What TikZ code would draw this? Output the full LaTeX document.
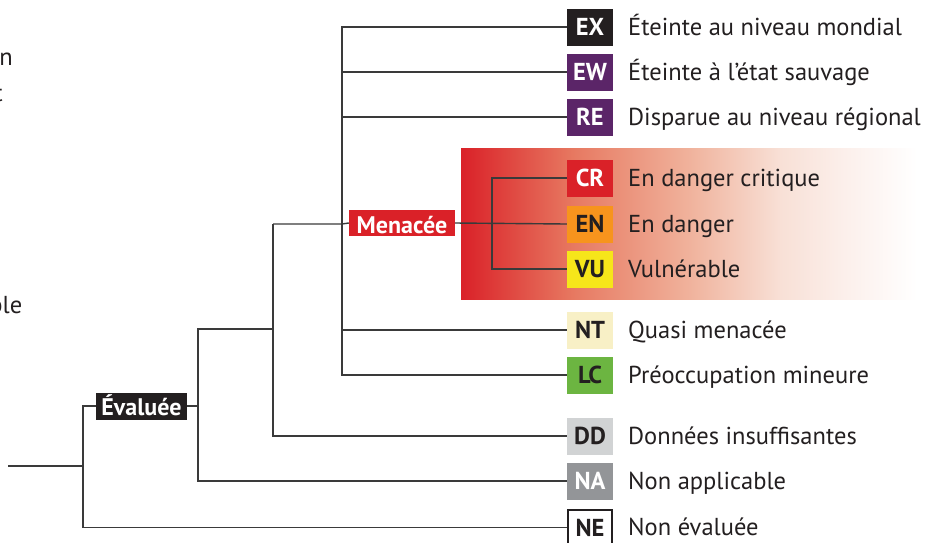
\documentclass[tikz,border=0pt]{standalone}
\usepackage{fontspec}
\setmainfont{PT Sans}
\definecolor{ink}{HTML}{231F20}
\definecolor{lineC}{HTML}{3A3A3A}
\definecolor{cEX}{HTML}{231F20}
\definecolor{cEW}{HTML}{5B2568}
\definecolor{cCR}{HTML}{DA2128}
\definecolor{cEN}{HTML}{F7941D}
\definecolor{cVU}{HTML}{F6E61A}
\definecolor{cNT}{HTML}{F8F0C6}
\definecolor{cLC}{HTML}{6CB541}
\definecolor{cDD}{HTML}{D1D3D4}
\definecolor{cNA}{HTML}{939598}
\definecolor{g1}{HTML}{E77A62}
\definecolor{g2}{HTML}{F0B29C}
\definecolor{g3}{HTML}{F8E0D6}
\definecolor{g4}{HTML}{FCF0EC}
\pgfdeclarehorizontalshading{redfade}{100bp}{color(0bp)=(cCR); color(25bp)=(cCR); color(37.5bp)=(g1); color(50bp)=(g2); color(60bp)=(g3); color(67.5bp)=(g4); color(75bp)=(white); color(100bp)=(white)}
\tikzset{
  code/.style={minimum width=46pt, minimum height=37pt, inner sep=0pt,
    text height=17pt, text depth=0pt,
    font=\fontsize{24.5}{24.5}\selectfont\bfseries, text=ink},
  lab/.style={anchor=base west, inner sep=0pt, font=\fontsize{24.5}{24.5}\selectfont, text=ink},
  tag/.style={inner sep=0pt, text=white, font=\fontsize{24}{24}\selectfont\bfseries},
  conn/.style={draw=lineC, line width=1.4pt},
  frag/.style={anchor=base east, inner sep=0pt, font=\fontsize{24.5}{24.5}\selectfont, text=ink}
}
\begin{document}
\begin{tikzpicture}[x=1pt,y=-1pt]
\useasboundingbox (0,0) rectangle (925,542);
% cut-off fragments at the left edge
\node[frag] (f1) at (13,65) {n};
\node[frag] (f2) at (3,101) {t};
\node[frag] (f3) at (22.5,313) {ble};
% red gradient panel
\shade[shading=redfade] (461,148) rectangle (917,299);
% code boxes
\node[code, fill=cEX, text=white] (EX) at (590,27) {EX};
\node[code, fill=cEW, text=white] (EW) at (590,72) {EW};
\node[code, fill=cEW, text=white] (RE) at (590,117) {RE};
\node[code, fill=cCR, text=white] (CR) at (590,178) {CR};
\node[code, fill=cEN] (EN) at (590,224) {EN};
\node[code, fill=cVU] (VU) at (590,269) {VU};
\node[code, fill=cNT] (NT) at (590,330) {NT};
\node[code, fill=cLC] (LC) at (590,375) {LC};
\node[code, fill=cDD] (DD) at (590,436) {DD};
\node[code, fill=cNA, text=white] (NA) at (590,481) {NA};
\node[code, fill=white, draw=ink, line width=2pt, minimum width=44pt, minimum height=35pt] (NE) at (590,527.5) {NE};
% labels
\node[lab] (tEX) at (628,35.5) {Éteinte au niveau mondial};
\node[lab] (tEW) at (628,80.5) {Éteinte à l’état sauvage};
\node[lab] (tRE) at (628,125.5) {Disparue au niveau régional};
\node[lab] (tCR) at (628,186.5) {En danger critique};
\node[lab] (tEN) at (628,232.5) {En danger};
\node[lab] (tVU) at (628,277.5) {Vulnérable};
\node[lab] (tNT) at (628,338.5) {Quasi menacée};
\node[lab] (tLC) at (628,383.5) {Préoccupation mineure};
\node[lab] (tDD) at (628,444.5) {Données insuffisantes};
\node[lab] (tNA) at (628,489.5) {Non applicable};
\node[lab] (tNE) at (628,535.5) {Non évaluée};
% group tags
\node[tag, fill=cCR, minimum width=106pt, minimum height=26pt, text height=21pt, text depth=1pt] (Men) at (402,223) {Menacée};
\node[tag, fill=cEX, minimum width=91pt, minimum height=27pt, text height=20pt, text depth=2pt] (Ev) at (141.5,406) {Évaluée};
% junctions
\coordinate (m) at (342,224);
\coordinate (n) at (492,224);
\coordinate (a) at (273,224);
\coordinate (c) at (198,329);
\coordinate (d) at (83,466);
\coordinate (root) at (8,466);
% connectors
\draw[conn] (EX.west) -| (m);
\draw[conn] (LC.west) -| (m);
\draw[conn] (EW.west) -- (EW.west -| m);
\draw[conn] (RE.west) -- (RE.west -| m);
\draw[conn] (NT.west) -- (NT.west -| m);
\draw[conn] (a) -- (m) -- (Men.west);
\draw[conn] (Men.east) -- (EN.west);
\draw[conn] (CR.west) -| (n);
\draw[conn] (VU.west) -| (n);
\draw[conn] (a) |- (DD.west);
\draw[conn] (c -| a) -- (c) |- (NA.west);
\draw[conn] (Ev.east) -- (Ev.east -| c);
\draw[conn] (Ev.west) -| (d);
\draw[conn] (NE.west) -| (d);
\draw[conn] (root) -- (d);
\end{tikzpicture}
\end{document}
